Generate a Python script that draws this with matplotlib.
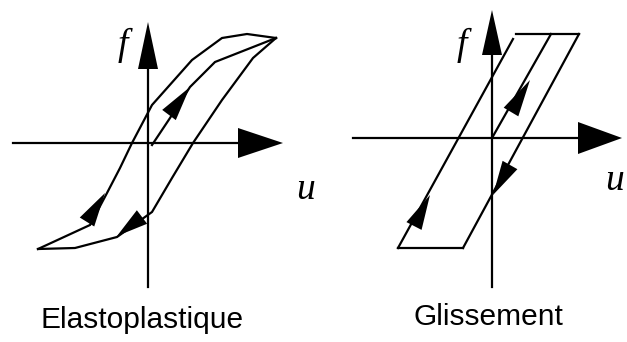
import matplotlib
matplotlib.use("Agg")
import matplotlib.pyplot as plt
from matplotlib.patches import Polygon
import numpy as np

# figure drawn in pixel coordinates (x right, y down)
W, H = 627, 342

# --- left panel: elastoplastic loop ---
elasto_axis_x = [13, 283]      # horizontal axis from/to (y = 143)
elasto_axis_y = [287, 22]      # vertical axis from/to (x = 148)
elasto_origin = (148, 143)

# initial loading from origin to the tip
elasto_first_x = [152, 170, 190, 215, 276]
elasto_first_y = [145, 118, 87, 62, 38]
# unloading from the tip to lower-left corner
elasto_down_x = [276, 253, 222, 193, 172, 152, 117, 75, 38]
elasto_down_y = [38, 58, 100, 143, 178, 212, 237, 248, 249]
# reloading from lower-left corner to the tip
elasto_up_x = [38, 90, 107, 120, 132, 152, 192, 222, 247, 276]
elasto_up_y = [249, 225, 193, 168, 143, 105, 60, 38, 34, 38]

# --- right panel: sliding (glissement) ---
gliss_axis_x = [353, 622]
gliss_axis_y = [287, 10]
gliss_origin = (492, 138)

gliss_left_x = [398, 513]
gliss_left_y = [248, 39]
gliss_mid_x = [492, 551]
gliss_mid_y = [138, 34]
gliss_right_x = [579, 463]
gliss_right_y = [34, 248]
gliss_top_x = [516, 579]
gliss_top_y = [34, 34]
gliss_bot_x = [398, 463]
gliss_bot_y = [248, 248]

# arrows: (base x, base y, tip x, tip y)
arrows = [
    (169, 115, 190, 87),
    (87, 222, 105, 193),
    (142, 217, 117, 236),
    (511, 112, 530, 80),
    (510, 165, 493, 195),
    (414, 226, 430, 195),
]

fig = plt.figure(figsize=(W / 100, H / 100), dpi=100)
ax = fig.add_axes([0, 0, 1, 1])
ax.set_xlim(0, W)
ax.set_ylim(H, 0)
ax.axis("off")

lw = 1.6


def arrow_head(bx, by, tx, ty, half=8.5):
    d = np.array([tx - bx, ty - by], float)
    d /= np.hypot(*d)
    n = np.array([-d[1], d[0]])
    base = np.array([bx, by])
    pts = [base + n * half, (tx, ty), base - n * half]
    ax.add_patch(Polygon(pts, closed=True, color="black", lw=0))


def axis_pair(xs, ys, origin, hx, hy):
    ox, oy = origin
    # horizontal axis with big filled head
    ax.plot([xs[0], xs[1] - 40], [oy, oy], color="black", lw=lw)
    ax.add_patch(Polygon([(xs[1] - hx[0], oy - hx[1]), (xs[1], oy),
                          (xs[1] - hx[0], oy + hx[1])], color="black", lw=0))
    # vertical axis
    ax.plot([ox, ox], [ys[0], ys[1] + 40], color="black", lw=lw)
    ax.add_patch(Polygon([(ox - hy[1], ys[1] + hy[0]), (ox, ys[1]),
                          (ox + hy[1], ys[1] + hy[0])], color="black", lw=0))


axis_pair(elasto_axis_x, elasto_axis_y, elasto_origin, (45, 15), (47, 10))
axis_pair(gliss_axis_x, gliss_axis_y, gliss_origin, (44, 16), (45, 10))

for xs, ys in [(elasto_first_x, elasto_first_y), (elasto_down_x, elasto_down_y),
               (elasto_up_x, elasto_up_y), (gliss_left_x, gliss_left_y),
               (gliss_mid_x, gliss_mid_y), (gliss_right_x, gliss_right_y),
               (gliss_top_x, gliss_top_y), (gliss_bot_x, gliss_bot_y)]:
    ax.plot(xs, ys, color="black", lw=lw, solid_joinstyle="miter")

for a in arrows:
    arrow_head(*a)

serif = dict(family="Liberation Serif", style="italic", fontsize=27,
             ha="center", va="center")
ax.text(123, 45, "f", **serif)
ax.text(306, 190, "u", **serif)
ax.text(462, 45, "f", **serif)
ax.text(605, 181, "u", family="Liberation Serif", style="italic",
        fontsize=27, ha="left", va="center")

sans = dict(family="Liberation Sans", fontsize=21.5, ha="center", va="center")
ax.text(142, 320, "Elastoplastique", **sans)
ax.text(488, 317, "Glissement", **sans)

fig.savefig("out.png", dpi=100)
